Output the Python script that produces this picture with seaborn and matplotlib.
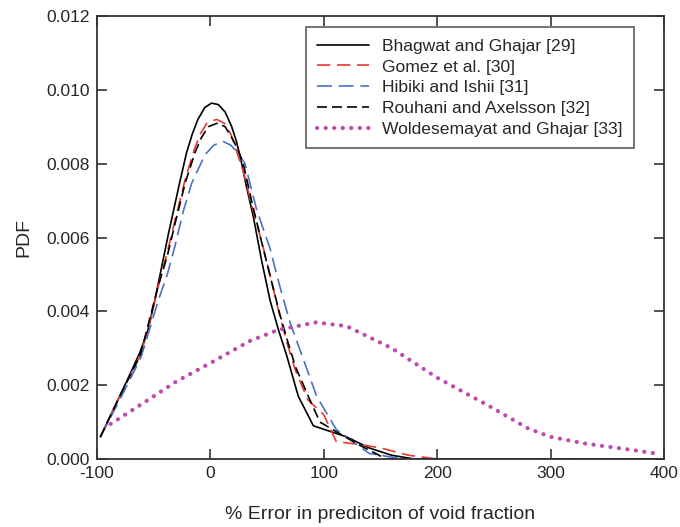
import numpy as np
import pandas as pd
import matplotlib
matplotlib.use("Agg")
import matplotlib.pyplot as plt
import seaborn as sns

# ---- data ----
bhagwat_x = [-97, -80, -69.4, -62, -55, -49, -43, -37, -32, -27, -21, -16, -11, -5, 1, 7, 13, 18.8, 23, 27.6, 32, 37.8, 45, 52.6, 60, 67.3, 77.5, 90.8, 120, 140, 160, 180, 400]
bhagwat_y = [0.0006, 0.0017, 0.0024, 0.0029, 0.0035, 0.0043, 0.0052, 0.0061, 0.0068, 0.0075, 0.0083, 0.0088, 0.0092, 0.00952, 0.00964, 0.0096, 0.0094, 0.0090, 0.0086, 0.0080, 0.00735, 0.00657, 0.0054, 0.0043, 0.0035, 0.0028, 0.0017, 0.0009, 0.0006, 0.0003, 0.0001, 0.0, 0.0]

gomez_x = [-97, -80, -62, -55, -45, -38, -31, -22, -14, -9, -3, 5.5, 12, 18, 24.6, 29, 37, 46, 54, 61, 68, 75, 86, 100, 111, 130, 150, 175, 200, 400]
gomez_y = [0.0006, 0.0017, 0.0028, 0.0035, 0.0048, 0.0056, 0.0065, 0.0076, 0.0084, 0.0088, 0.0091, 0.0092, 0.0091, 0.0088, 0.0082, 0.0078, 0.0068, 0.0058, 0.0048, 0.0039, 0.0031, 0.0024, 0.0016, 0.0012, 0.00047, 0.0004, 0.0003, 0.0001, 0.0, 0.0]

hibiki_x = [-97, -80, -62, -57.7, -45.9, -38, -31, -24, -16.5, -10, -4.8, 3, 11.4, 18, 24, 30.5, 40.8, 52.6, 61, 70.2, 82, 93.7, 111, 140, 170, 400]
hibiki_y = [0.0006, 0.0016, 0.0027, 0.0031, 0.0043, 0.0050, 0.0058, 0.0067, 0.00747, 0.0079, 0.00824, 0.0085, 0.0086, 0.0085, 0.0083, 0.0080, 0.00675, 0.0057, 0.0047, 0.0037, 0.0027, 0.0017, 0.0008, 0.00015, 0.0, 0.0]

rouhani_x = [-97, -80, -62, -57.7, -45.9, -38, -31, -22, -13.6, -8, -2, 6.4, 13, 19, 24, 29, 37, 46.6, 54, 61.4, 68, 75, 86.3, 96.6, 111, 130, 155, 400]
rouhani_y = [0.0006, 0.0017, 0.0028, 0.0033, 0.0047, 0.0055, 0.0064, 0.0075, 0.0083, 0.0087, 0.0090, 0.0091, 0.0090, 0.0087, 0.0084, 0.0080, 0.0069, 0.0057, 0.0048, 0.0039, 0.0032, 0.0025, 0.0017, 0.0010, 0.00074, 0.0004, 0.0, 0.0]

wolde_x = [-88, -60, -30, 0, 35, 60, 93, 120, 160, 200, 245, 280, 300, 330, 373, 397]
wolde_y = [0.00095, 0.0015, 0.0021, 0.0026, 0.0032, 0.0035, 0.0037, 0.0036, 0.0030, 0.0022, 0.00145, 0.00083, 0.0006, 0.00042, 0.00024, 0.00013]

labels = ["Bhagwat and Ghajar [29]", "Gomez et al. [30]", "Hibiki and Ishii [31]",
          "Rouhani and Axelsson [32]", "Woldesemayat and Ghajar [33]"]
x_ticks = [-100, 0, 100, 200, 300, 400]
y_ticks = [0.000, 0.002, 0.004, 0.006, 0.008, 0.010, 0.012]

sns.set_theme(style="ticks")
plt.rcParams['font.family'] = ['Liberation Sans', 'DejaVu Sans']

fig = plt.figure(figsize=(6.8, 5.27), dpi=100)
ax = fig.add_axes([97/680, 1 - 459/527, (664 - 97)/680, (459 - 16)/527])

series = [
    (bhagwat_x, bhagwat_y, dict(color="black", linestyle="-", linewidth=1.2)),
    (gomez_x, gomez_y, dict(color="#E8392F", linestyle=(0, (8, 4)), linewidth=1.2)),
    (hibiki_x, hibiki_y, dict(color="#4A72C4", linestyle=(0, (9, 4)), linewidth=1.2)),
    (rouhani_x, rouhani_y, dict(color="black", linestyle=(0, (6, 3)), linewidth=1.2)),
    (wolde_x, wolde_y, dict(color="#BE4BAF", linestyle=(0, (0.05, 2.0)), linewidth=3.0,
                            dash_capstyle="round")),
]
for (xs, ys, st), lab in zip(series, labels):
    df = pd.DataFrame({"x": xs, "y": ys})
    sns.lineplot(data=df, x="x", y="y", ax=ax, sort=False, estimator=None,
                 label=lab, **st)

ax.set_xlim(-100, 400)
ax.set_ylim(0, 0.012)
ax.set_xticks(x_ticks)
ax.set_xticklabels([str(t) for t in x_ticks])
ax.set_yticks(y_ticks)
ax.set_yticklabels([f"{t:.3f}" for t in y_ticks])
ax.tick_params(direction="in", length=7, width=1.2, color="#333333",
               top=True, right=True, labelsize=12.5, pad=5)
for s in ax.spines.values():
    s.set_color("#333333")
    s.set_linewidth(1.3)
ax.set_xlabel("% Error in prediciton of void fraction", fontsize=14, labelpad=18)
ax.set_ylabel("PDF", fontsize=14, labelpad=10)

leg = ax.legend(loc="upper right", bbox_to_anchor=(0.947, 0.975), borderaxespad=0,
                fontsize=12.6, handlelength=2.95, handletextpad=0.75, labelspacing=0.32,
                borderpad=0.65, fancybox=False, frameon=True)
leg.get_frame().set_edgecolor("#333333")
leg.get_frame().set_linewidth(1.2)

fig.savefig("out.png", dpi=100)
